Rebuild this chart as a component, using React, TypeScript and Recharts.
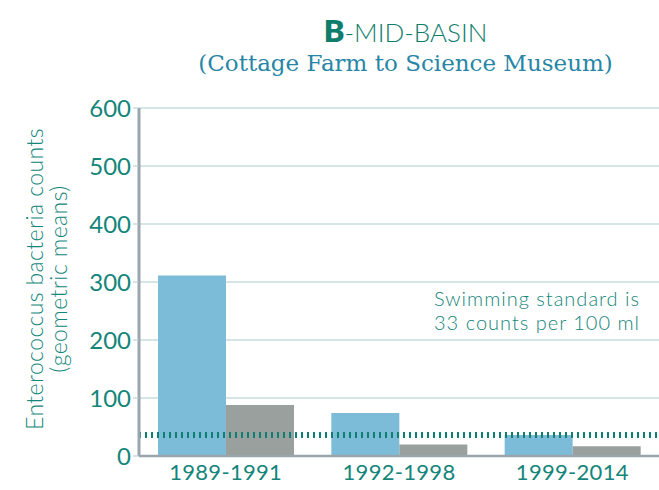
import React from "react";
import {
  BarChart, Bar, XAxis, YAxis, CartesianGrid, ReferenceLine
} from "recharts";

const periods = ["1989-1991", "1992-1998", "1999-2014"];
const blueValues = [311, 74, 36];
const grayValues = [88, 20, 17];
const yTicks = [0, 100, 200, 300, 400, 500, 600];
const SWIM_STANDARD = 36;

const TEAL = "#14857a";
const FONT = "Lato, 'Open Sans', sans-serif";

const data = periods.map((p, i) => ({
  period: p,
  blue: blueValues[i],
  gray: grayValues[i],
}));

function YLabel() {
  const cy = 279;
  const common = {
    textAnchor: "middle" as const,
    dominantBaseline: "central" as const,
    fill: TEAL,
    fontSize: 23,
    fontFamily: FONT,
    fontWeight: 300,
    letterSpacing: 0.4,
  };
  return (
    <g>
      <text x={34} y={cy} transform={`rotate(-90 34 ${cy})`} {...common}>
        Enterococcus bacteria counts
      </text>
      <text x={58} y={cy} transform={`rotate(-90 58 ${cy})`} {...common}>
        (geometric means)
      </text>
    </g>
  );
}

export default function App() {
  return (
    <div style={{ position: "absolute", left: 0, top: 0, width: 659, height: 490, background: "#fff" }}>
      <div style={{
        position: "absolute", left: 0, width: 659, top: 13, textAlign: "center",
        paddingLeft: 152, boxSizing: "border-box", color: "#0f7d6c", fontFamily: FONT,
        fontSize: 26, lineHeight: "34px", fontWeight: 300,
      }}>
        <span style={{ fontWeight: 800, fontSize: 31 }}>B</span>-MID-BASIN
      </div>
      <div style={{
        position: "absolute", left: 0, width: 659, top: 47, textAlign: "center",
        paddingLeft: 152, boxSizing: "border-box", color: "#2786a5",
        fontFamily: "'DejaVu Serif', serif", fontSize: 23, lineHeight: "32px",
      }}>
        (Cottage Farm to Science Museum)
      </div>
      <BarChart
        width={659}
        height={490}
        data={data}
        margin={{ top: 108, right: 0, left: 89, bottom: 0 }}
        barGap={0}
        barSize={68}
      >
        <CartesianGrid vertical={false} stroke="#c9dcdd" strokeWidth={1.5} />
        <XAxis
          dataKey="period"
          height={34}
          tickLine={false}
          axisLine={{ stroke: "#9aa6ad", strokeWidth: 2.5 }}
          tick={{ fill: TEAL, fontSize: 22, fontFamily: FONT, letterSpacing: 0.3 }}
          tickMargin={2}
        />
        <YAxis
          domain={[0, 600]}
          ticks={yTicks}
          width={50}
          interval={0}
          tickSize={6}
          tickLine={{ stroke: "#b8c9cc" }}
          axisLine={{ stroke: "#9aa6ad", strokeWidth: 3 }}
          tick={{ fill: TEAL, fontSize: 24, fontFamily: FONT }}
          label={<YLabel />}
        />
        <Bar dataKey="blue" fill="#7dbcd9" isAnimationActive={false} />
        <Bar dataKey="gray" fill="#9aa09d" isAnimationActive={false} />
        <ReferenceLine
          y={SWIM_STANDARD}
          stroke="#0f7f72"
          strokeWidth={6}
          strokeDasharray="2 4"
        />
      </BarChart>
      <div style={{
        position: "absolute", left: 416, width: 242, top: 286, textAlign: "center",
        color: TEAL, fontFamily: FONT, fontSize: 20, lineHeight: "24px", fontWeight: 300,
        letterSpacing: 1,
      }}>
        <div>Swimming standard is</div>
        <div>33 counts per 100 ml</div>
      </div>
    </div>
  );
}
